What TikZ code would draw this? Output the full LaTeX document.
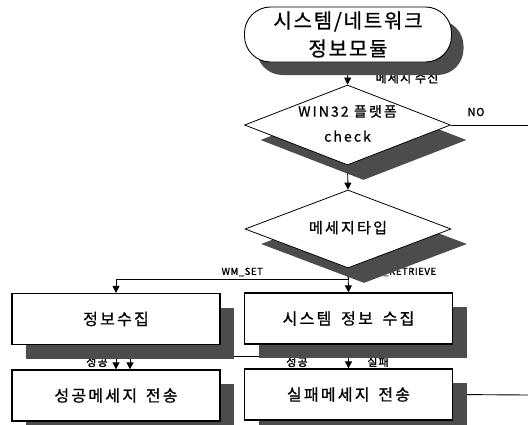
\documentclass[tikz,border=0pt]{standalone}
\usepackage{fontspec}
\newfontfamily\krA[LetterSpace=9,FakeBold=0.8]{Noto Sans CJK KR}
\newfontfamily\krB[LetterSpace=15,FakeBold=0.8]{Noto Sans CJK KR}
\newfontfamily\krC[LetterSpace=14,FakeBold=0.8]{Noto Sans CJK KR}
\newfontfamily\krD[LetterSpace=10,FakeBold=2]{Noto Sans CJK KR}
\newfontfamily\krE[LetterSpace=6,FakeBold=1.5]{Noto Sans CJK KR}
\usetikzlibrary{shapes.geometric,shadows,arrows.meta}
\pgfdeclarelayer{bg}
\pgfdeclarelayer{conn}
\pgfsetlayers{bg,conn,main}
\newcommand{\ztext}[1]{\smash{\makebox[0pt]{\begin{tabular}{@{}c@{}}#1\end{tabular}}}}
\begin{document}
\begin{tikzpicture}[x=1pt,y=-1pt,
  boxshadow/.style={drop shadow={shadow xshift=14pt,shadow yshift=-14pt,fill=black!70,opacity=1,draw=none}},
  diashadow/.style={drop shadow={shadow xshift=16pt,shadow yshift=-15pt,fill=black!70,opacity=1,draw=none}},
  termshadow/.style={drop shadow={shadow xshift=12pt,shadow yshift=-13pt,fill=black!70,opacity=1,draw=none}},
  termnode/.style={draw,line width=0.9pt,fill=white,rectangle,rounded corners=26pt,minimum width=207pt,minimum height=55pt,inner sep=0pt,align=center,termshadow},
  dianode/.style={draw,line width=0.8pt,fill=white,diamond,minimum width=206pt,minimum height=80pt,inner sep=0pt,diashadow},
  boxnode/.style={draw,line width=1.3pt,fill=white,rectangle,minimum width=208pt,minimum height=51pt,inner sep=0pt,boxshadow},
  conn/.style={line width=0.9pt,black},
  arr/.style={conn,-{Triangle[length=7pt,width=7pt]}},
  lbl/.style={inner sep=0pt,font=\krD\fontsize{11}{13}\selectfont},
  slbl/.style={inner sep=0pt,font=\krE\fontsize{9.5}{11}\selectfont}
]
\begin{pgfonlayer}{bg}
\fill[white] (0,0) rectangle (528,424);
\end{pgfonlayer}
\useasboundingbox (0,0) rectangle (528,424);

\node[termnode,font=\krA\fontsize{20}{28}\selectfont] (term) at (348,34.5) {시스템/네트워크\\정보모듈};
\node[dianode,font=\krB\fontsize{14}{25}\selectfont] (d1) at (347.5,125) {\raisebox{-5.5pt}{\ztext{WIN32 플랫폼\\check}}};
\node[dianode,minimum height=78pt,font=\krB\fontsize{15}{18}\selectfont] (d2) at (348,229) {\raisebox{-8.5pt}{\ztext{메세지타입}}};
\node[boxnode,font=\krC\fontsize{16}{18}\selectfont] (b1) at (116,319) {정보수집};
\node[boxnode,font=\krC\fontsize{16}{18}\selectfont] (b2) at (348.5,318.5) {시스템 \hspace{4pt}정보 \hspace{4pt}수집};
\node[boxnode,font=\krC\fontsize{16}{18}\selectfont] (b3) at (116,395.5) {성공메세지 \hspace{3pt}전송};
\node[boxnode,font=\krC\fontsize{16}{18}\selectfont] (b4) at (348.5,394.5) {실패메세지 \hspace{3pt}전송};

\coordinate (noend) at (528,125);
\coordinate (failend) at (528,395);

\begin{pgfonlayer}{conn}
\draw[arr] (term.south) -- (d1.north);
\node[lbl,font=\krD\fontsize{12}{14}\selectfont] (l1) at (407,78) {메세지 수신};
\draw[conn] (d1.east) -- (noend);
\node[slbl,font=\krE\fontsize{11}{13}\selectfont] (lno) at (476,112) {NO};
\draw[arr] (d1.south) -- (d2.north);
\draw[arr] (d2.south) -- (b2.north);
\draw[arr] (d2.south) -- ++(0,11) -| (b1.north);
\node[slbl,anchor=east] (lset) at (263,272) {WM\_SET};
\node[slbl,anchor=west] (lret) at (366,272) {WM\_RETRIEVE};
\draw[arr] (b1.south) -- (b3.north);
\node[lbl] (ls1) at (97,362) {성공};
\draw[arr] ([xshift=-50pt]b2.south) -- ++(0,12) -| ([xshift=14pt]b3.north);
\node[lbl] (ls2) at (297,362) {성공};
\draw[arr] (b2.south) -- (b4.north);
\node[lbl] (lf) at (378,362) {실패};
\draw[conn] (b4.east) -- (failend);
\end{pgfonlayer}
\end{tikzpicture}
\end{document}
